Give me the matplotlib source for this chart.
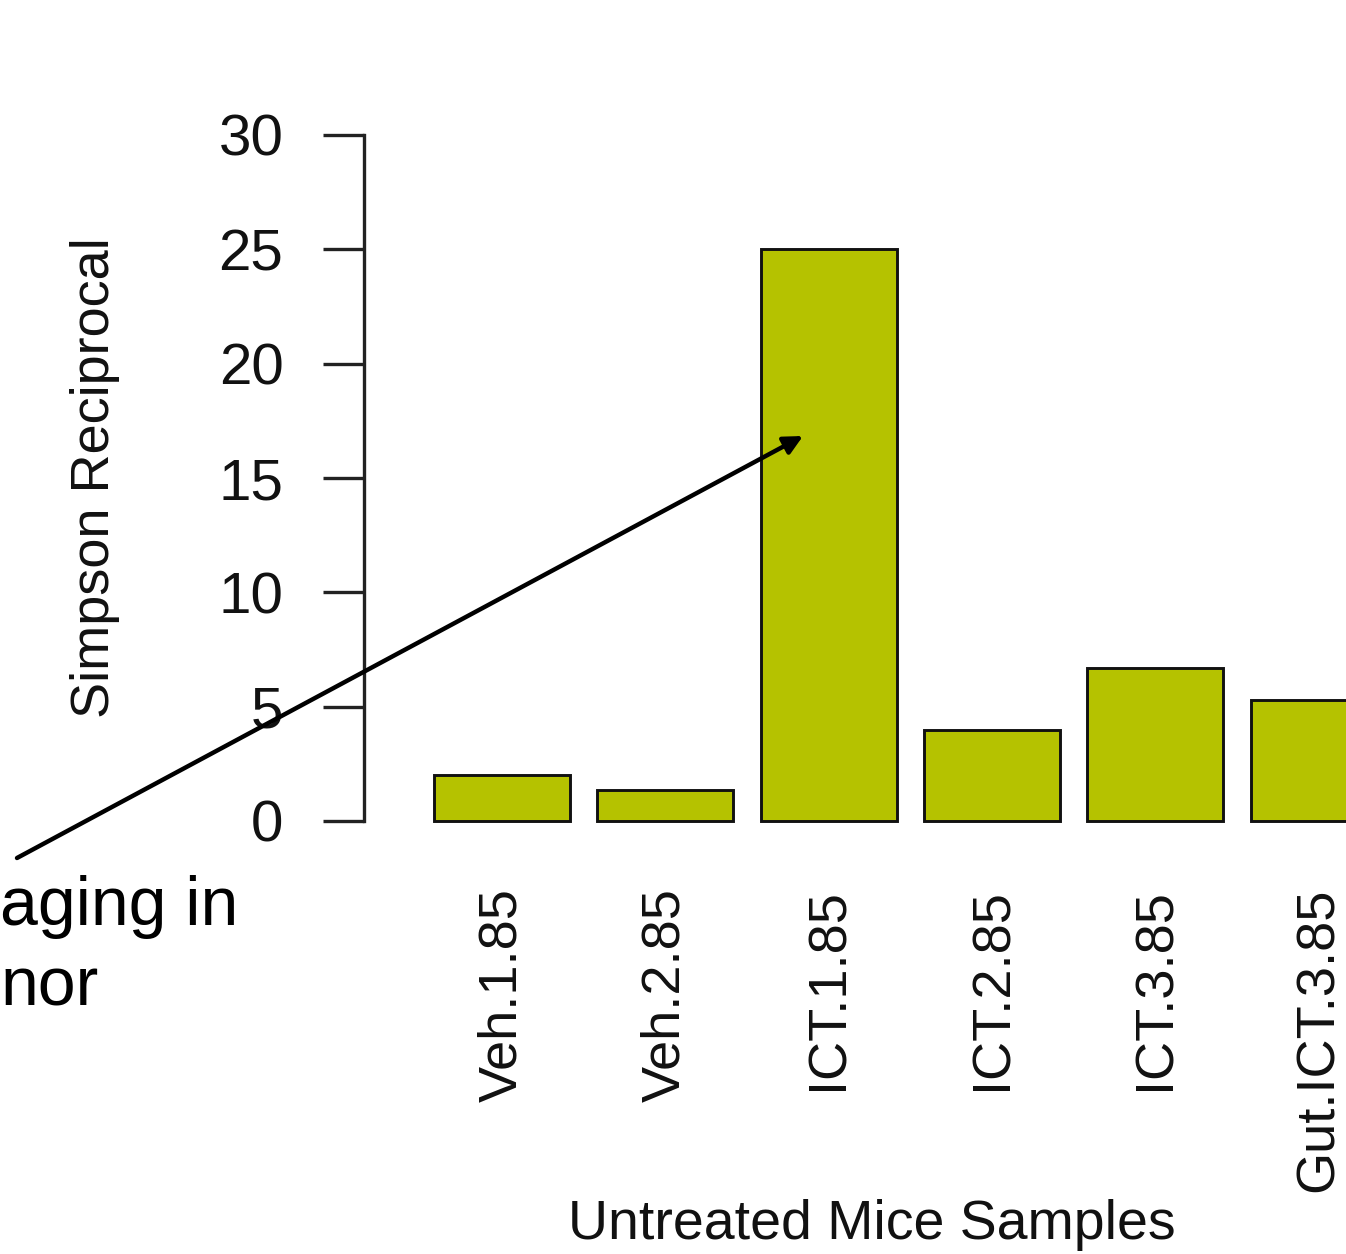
import matplotlib
matplotlib.use("Agg")
import matplotlib.pyplot as plt

plt.rcParams['font.family'] = ['Liberation Sans', 'DejaVu Sans']

# ---- data ----
samples = ["Veh.1.85", "Veh.2.85", "ICT.1.85", "ICT.2.85", "ICT.3.85", "Gut.ICT.3.85"]
simpson_reciprocal = [2.0, 1.35, 25.0, 4.0, 6.7, 5.3]
y_ticks = [0, 5, 10, 15, 20, 25, 30]
y_label = "Simpson Reciprocal"
x_label = "Untreated Mice Samples"
note_lines = ["aging in", "nor"]

W, H = 1346, 1254
DPI = 100
fig = plt.figure(figsize=(W / DPI, H / DPI), dpi=DPI)
fig.patch.set_facecolor('white')

# axes geometry (pixels from top-left)
ax_left, ax_right, ax_top, ax_bottom = 364, 1380, 135, 821
ax = fig.add_axes([ax_left / W, (H - ax_bottom) / H,
                   (ax_right - ax_left) / W, (ax_bottom - ax_top) / H])

# R barplot style positions: width 1, space 0.2
centers = [0.7 + 1.2 * i for i in range(len(samples))]
ax.bar(centers, simpson_reciprocal, width=1.0, color='#b5c200',
       edgecolor='#111111', linewidth=2.1, clip_on=False, zorder=2)

ax.set_xlim(-0.314, 7.15)
ax.set_ylim(0, 30)

for s in ['top', 'right', 'bottom']:
    ax.spines[s].set_visible(False)
ax.spines['left'].set_linewidth(2.4)
ax.spines['left'].set_color('#222222')

ax.set_yticks(y_ticks)
ax.set_yticklabels([str(t) for t in y_ticks], fontsize=42, color='#111111')
ax.tick_params(axis='y', length=29.5, width=2.4, pad=28.5, color='#222222')

ax.set_xticks(centers)
ax.set_xticklabels(samples, rotation=90, fontsize=39, color='#111111')
ax.tick_params(axis='x', length=0, pad=48)

ax.set_ylabel(y_label, fontsize=39, color='#111111')
ax.yaxis.set_label_coords((95 - ax_left) / (ax_right - ax_left), 0.5)
ax.yaxis.label.set_verticalalignment('center')

ax.set_xlabel(x_label, fontsize=40, color='#111111')
ax.xaxis.set_label_coords(0.5, (ax_bottom - 1239) / (ax_bottom - ax_top))
ax.xaxis.label.set_verticalalignment('baseline')

# overlay annotation (cropped slide text + arrow)
fig.text(238 / W, (H - 925) / H, note_lines[0], fontsize=49, ha='right',
         va='baseline', color='black')
fig.text(0.0, (H - 1005) / H, note_lines[1], fontsize=49, ha='left',
         va='baseline', color='black')

ax.annotate('', xy=(803 / W, (H - 436) / H), xycoords='figure fraction',
            xytext=(17 / W, (H - 858) / H), textcoords='figure fraction',
            arrowprops=dict(arrowstyle='-|>', lw=3.2, color='black',
                            mutation_scale=28, shrinkA=0, shrinkB=0),
            annotation_clip=False, zorder=5)

fig.savefig('out.png', dpi=DPI)
